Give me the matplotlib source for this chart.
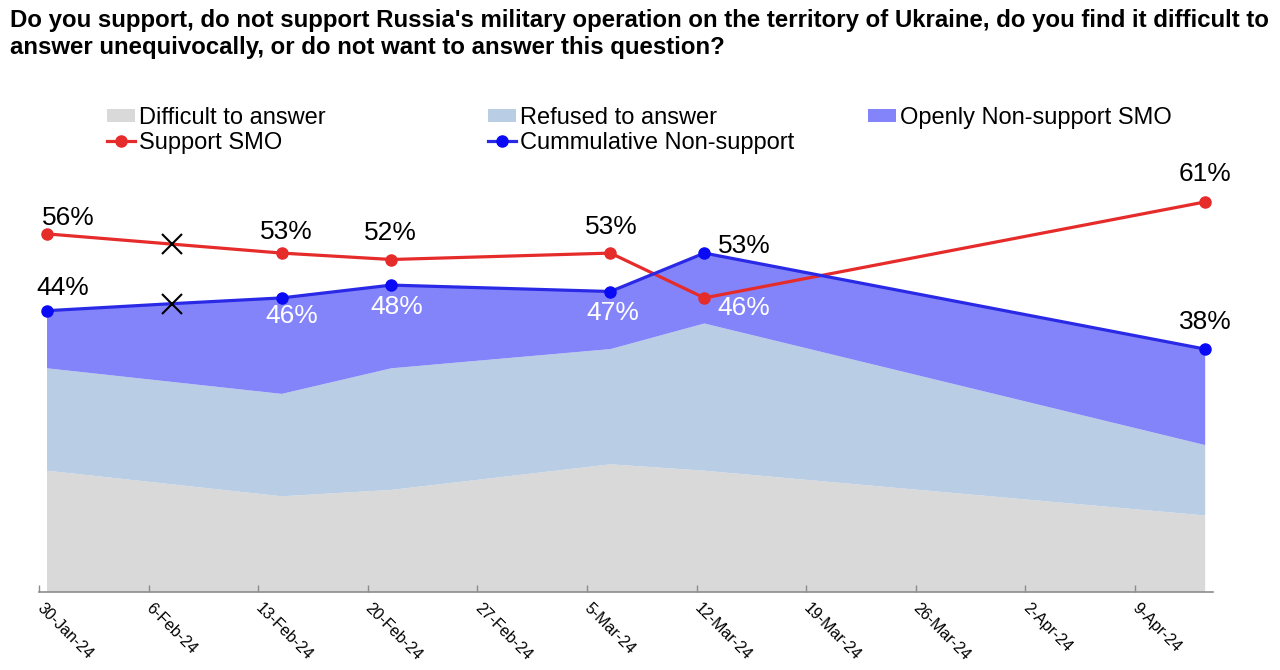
import pandas as pd
import matplotlib.pyplot as plt
import matplotlib.dates as mdates
from matplotlib.patches import Patch
from matplotlib.lines import Line2D

plt.rcParams['font.family'] = ['Liberation Sans', 'DejaVu Sans']

title = ("Do you support, do not support Russia's military operation on the territory of Ukraine, "
         "do you find it difficult to\nanswer unequivocally, or do not want to answer this question?")

# waves with the full breakdown (stacked areas)
area_dates = ['2024-01-30', '2024-02-14', '2024-02-21', '2024-03-06', '2024-03-12', '2024-04-13']
difficult = [19, 15, 16, 20, 19, 12]
refused = [16, 16, 19, 18, 23, 11]
openly_non_support = [9, 15, 13, 9, 11, 15]

# line series, incl. the 7-Feb wave which is only shown as a cross
line_dates = ['2024-01-30', '2024-02-07', '2024-02-14', '2024-02-21', '2024-03-06', '2024-03-12', '2024-04-13']
support = [56, 54.4, 53, 52, 53, 46, 61]
cumulative = [44, 45.1, 46, 48, 47, 53, 38]
cross_date = '2024-02-07'

tick_labels = ['30-Jan-24', '6-Feb-24', '13-Feb-24', '20-Feb-24', '27-Feb-24', '5-Mar-24',
               '12-Mar-24', '19-Mar-24', '26-Mar-24', '2-Apr-24', '9-Apr-24']

legend_labels = ['Difficult to answer', 'Refused to answer', 'Openly Non-support SMO',
                 'Support SMO', 'Cummulative Non-support']

# colours
c_diff = '#D9D9D9'
c_ref = '#B9CDE5'
c_open = '#8484FA'
c_sup = '#E62B2B'
c_cum = '#2A2AE6'
c_cum_marker = '#0A0AF5'

# label placement in pixels (dx, dy up) and colour, per point; None = no label
sup_lbl = [(21, 16, 'black'), None, (5, 21, 'black'), (-1, 27, 'black'), (1, 26, 'black'),
           (39, -10, 'white'), (0, 28, 'black')]
cum_lbl = [(16, 23, 'black'), None, (10, -18, 'white'), (5, -22, 'white'), (2, -21, 'white'),
           (40, 7, 'black'), (0, 27, 'black')]

x_area = mdates.date2num(pd.to_datetime(area_dates))
x_line = mdates.date2num(pd.to_datetime(line_dates))
x_ticks = mdates.date2num(pd.to_datetime(tick_labels, format='%d-%b-%y')) - 0.5
is_cross = [d == cross_date for d in line_dates]

fig = plt.figure(figsize=(12.8, 6.7), dpi=100)
W, H = 1280, 670
ax = fig.add_axes([39.2 / W, (H - 592.3) / H, (1213 - 39.2) / W, 70 * 6.4 / H])

ax.stackplot(x_area, difficult, refused, openly_non_support,
             colors=[c_diff, c_ref, c_open], linewidth=0, zorder=1)

ax.plot(x_line, support, color=c_sup, lw=2.3, zorder=3)
ax.plot(x_line, cumulative, color=c_cum, lw=2.3, zorder=3)
for i, x in enumerate(x_line):
    if is_cross[i]:
        ax.plot([x, x], [support[i], cumulative[i]], 'x', color='black', ms=14, mew=1.5, zorder=4)
    else:
        ax.plot(x, support[i], 'o', color=c_sup, ms=8, zorder=4)
        ax.plot(x, cumulative[i], 'o', color=c_cum_marker, ms=8, zorder=4)

for vals, lbls in ((support, sup_lbl), (cumulative, cum_lbl)):
    for x, v, lb in zip(x_line, vals, lbls):
        if lb is None:
            continue
        dx, dy, col = lb
        ax.annotate(f'{round(v)}%', (x, v), xytext=(dx, dy), textcoords='offset pixels',
                    ha='center', va='center', fontsize=19, color=col, zorder=5)

ax.set_xlim(x_area[0] - 0.5, x_area[-1] + 0.5)
ax.set_ylim(0, 70)
ax.set_yticks([])
for s in ('left', 'top', 'right'):
    ax.spines[s].set_visible(False)
ax.spines['bottom'].set_color('#8C8C8C')
ax.spines['bottom'].set_linewidth(1.2)
ax.set_xticks(x_ticks)
ax.set_xticklabels(tick_labels)
ax.tick_params(axis='x', direction='in', length=5, color='#8C8C8C', width=1, pad=10, labelsize=11.5)
plt.setp(ax.get_xticklabels(), rotation=-45, ha='left', va='center', rotation_mode='anchor')

fig.text(10 / W, 1 - 9 / H, title, fontsize=17.25, fontweight='bold', ha='left', va='top', linespacing=1.22)

h_diff = Patch(facecolor=c_diff)
h_ref = Patch(facecolor=c_ref)
h_open = Patch(facecolor=c_open)
h_sup = Line2D([], [], color=c_sup, lw=2.3, marker='o', ms=8)
h_cum = Line2D([], [], color=c_cum, lw=2.3, marker='o', ms=8, mfc=c_cum_marker, mec=c_cum_marker)

leg_kw = dict(loc='upper left', frameon=False, fontsize=17, handlelength=1.2, handleheight=0.5,
              handletextpad=0.15, labelspacing=0.12, borderpad=0, borderaxespad=0)
fig.legend([h_diff, h_sup], [legend_labels[0], legend_labels[3]],
           bbox_to_anchor=(107 / W, 1 - 107 / H), **leg_kw)
fig.legend([h_ref, h_cum], [legend_labels[1], legend_labels[4]],
           bbox_to_anchor=(488 / W, 1 - 107 / H), **leg_kw)
fig.legend([h_open], [legend_labels[2]],
           bbox_to_anchor=(868 / W, 1 - 107 / H), **leg_kw)

fig.savefig('out.png', dpi=100)
